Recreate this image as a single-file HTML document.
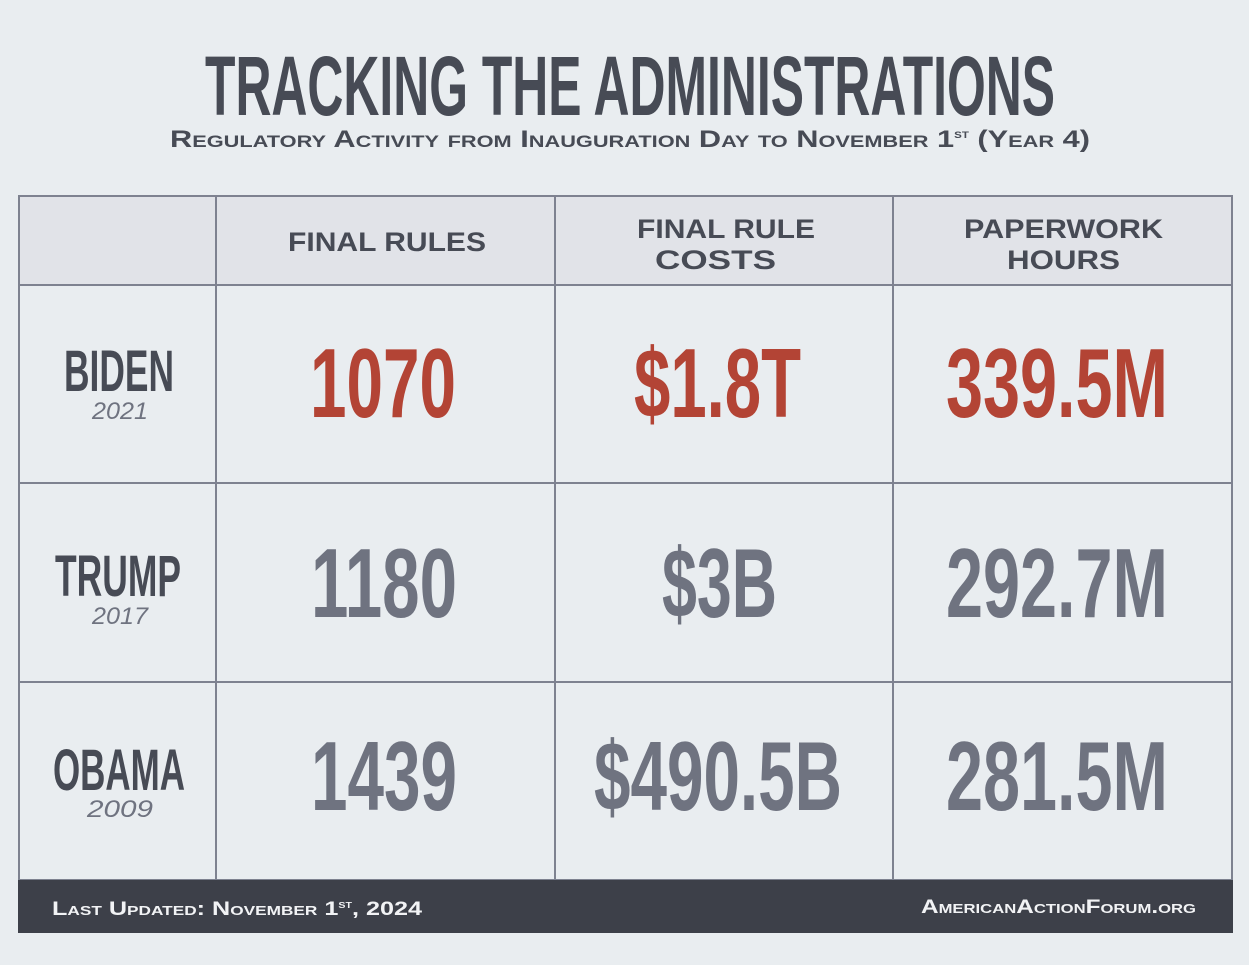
<!DOCTYPE html>
<html><head><meta charset="utf-8"><style>
html,body{margin:0;padding:0;background:#e9edf0;}
svg{display:block;}
text{font-family:"Liberation Sans Narrow","Liberation Sans",sans-serif;}
</style></head><body>
<svg width="1249" height="965" viewBox="0 0 1249 965" xmlns="http://www.w3.org/2000/svg">
<rect x="0" y="0" width="1249" height="965" fill="#e9edf0"/>
<text x="205" y="115" font-size="84" font-weight="bold" fill="#474b55" textLength="850" lengthAdjust="spacingAndGlyphs">TRACKING THE ADMINISTRATIONS</text>
<text x="170" y="147" font-size="24" font-weight="bold" fill="#474b55" textLength="920" lengthAdjust="spacingAndGlyphs" style="font-family:'Liberation Sans',sans-serif;font-variant:small-caps">Regulatory Activity from Inauguration Day to November 1<tspan font-size="13" dy="-9">st</tspan><tspan dy="9"> (Year 4)</tspan></text>

<g>
<rect x="19" y="196" width="1213" height="89" fill="#e1e3e8"/>
<rect x="19" y="196" width="1213" height="684" fill="none" stroke="#7e8290" stroke-width="2"/>
<line x1="216" y1="196" x2="216" y2="880" stroke="#7e8290" stroke-width="2"/>
<line x1="555" y1="196" x2="555" y2="880" stroke="#7e8290" stroke-width="2"/>
<line x1="893" y1="196" x2="893" y2="880" stroke="#7e8290" stroke-width="2"/>
<line x1="19" y1="285" x2="1232" y2="285" stroke="#7e8290" stroke-width="2"/>
<line x1="19" y1="483" x2="1232" y2="483" stroke="#7e8290" stroke-width="2"/>
<line x1="19" y1="682" x2="1232" y2="682" stroke="#7e8290" stroke-width="2"/>
</g>

<g style="font-family:'Liberation Sans',sans-serif" font-weight="bold" fill="#474b55" font-size="27">
<text x="288" y="251" textLength="198" lengthAdjust="spacingAndGlyphs" style="font-family:'Liberation Sans',sans-serif">FINAL RULES</text>
<text x="637" y="238" textLength="178" lengthAdjust="spacingAndGlyphs" style="font-family:'Liberation Sans',sans-serif">FINAL RULE</text>
<text x="655" y="269" textLength="121" lengthAdjust="spacingAndGlyphs" style="font-family:'Liberation Sans',sans-serif">COSTS</text>
<text x="964" y="238" textLength="199" lengthAdjust="spacingAndGlyphs" style="font-family:'Liberation Sans',sans-serif">PAPERWORK</text>
<text x="1007" y="269" textLength="113" lengthAdjust="spacingAndGlyphs" style="font-family:'Liberation Sans',sans-serif">HOURS</text>
</g>

<g font-weight="bold" fill="#474b55" font-size="58">
<text x="64" y="391" textLength="110" lengthAdjust="spacingAndGlyphs">BIDEN</text>
<text x="55" y="596" textLength="126" lengthAdjust="spacingAndGlyphs">TRUMP</text>
<text x="53" y="790" textLength="132" lengthAdjust="spacingAndGlyphs">OBAMA</text>
</g>
<g font-style="italic" fill="#6f7380" font-size="24" style="font-family:'Liberation Sans',sans-serif">
<text x="92" y="419" textLength="56" lengthAdjust="spacingAndGlyphs" style="font-family:'Liberation Sans',sans-serif">2021</text>
<text x="92" y="624" textLength="56" lengthAdjust="spacingAndGlyphs" style="font-family:'Liberation Sans',sans-serif">2017</text>
<text x="87" y="817" textLength="66" lengthAdjust="spacingAndGlyphs" style="font-family:'Liberation Sans',sans-serif">2009</text>
</g>

<g font-weight="bold" font-size="98">
<text x="310" y="417" textLength="146" lengthAdjust="spacingAndGlyphs" fill="#b34435">1070</text>
<text x="634" y="417" textLength="167" lengthAdjust="spacingAndGlyphs" fill="#b34435">$1.8T</text>
<text x="946" y="417" textLength="222" lengthAdjust="spacingAndGlyphs" fill="#b34435">339.5M</text>
<text x="311" y="617" textLength="146" lengthAdjust="spacingAndGlyphs" fill="#6f7380">1180</text>
<text x="662" y="617" textLength="115" lengthAdjust="spacingAndGlyphs" fill="#6f7380">$3B</text>
<text x="946" y="617" textLength="222" lengthAdjust="spacingAndGlyphs" fill="#6f7380">292.7M</text>
<text x="311" y="810" textLength="146" lengthAdjust="spacingAndGlyphs" fill="#6f7380">1439</text>
<text x="594" y="810" textLength="248" lengthAdjust="spacingAndGlyphs" fill="#6f7380">$490.5B</text>
<text x="946" y="810" textLength="222" lengthAdjust="spacingAndGlyphs" fill="#6f7380">281.5M</text>
</g>

<rect x="18" y="880" width="1215" height="53" fill="#3d4049"/>
<text x="52" y="915" font-size="19" font-weight="bold" fill="#f2f3f5" textLength="370" lengthAdjust="spacingAndGlyphs" style="font-variant:small-caps;font-family:'Liberation Sans',sans-serif">Last Updated: November 1<tspan font-size="11" dy="-7">st</tspan><tspan dy="7">, 2024</tspan></text>
<text x="921" y="913" font-size="19" font-weight="bold" fill="#f2f3f5" textLength="275" lengthAdjust="spacingAndGlyphs" style="font-variant:small-caps;font-family:'Liberation Sans',sans-serif">AmericanActionForum.org</text>
</svg>
</body></html>
